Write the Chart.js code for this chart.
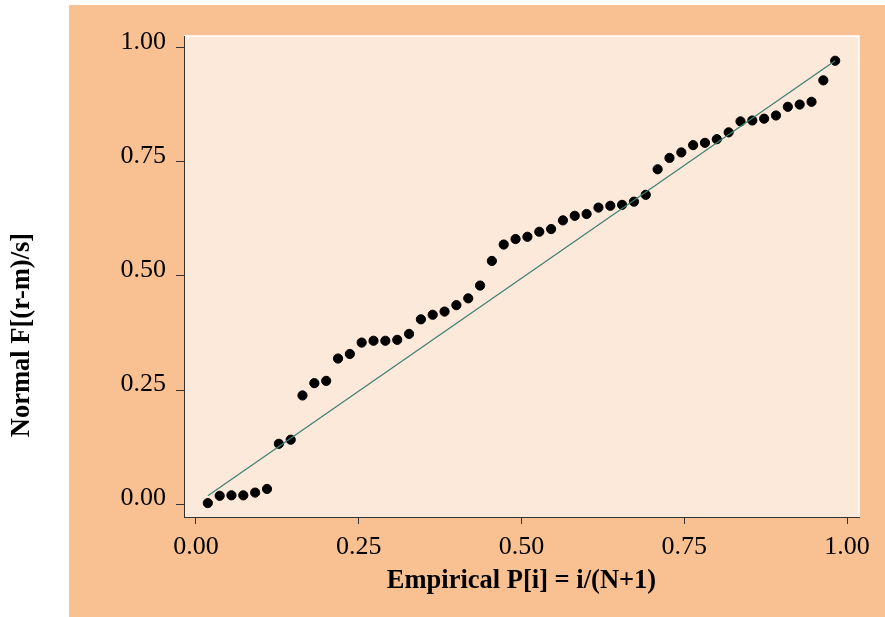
<!DOCTYPE html>
<html>
<head>
<meta charset="utf-8">
<script src="https://cdn.jsdelivr.net/npm/chart.js@4"></script>
<style>
  html, body { margin: 0; padding: 0; background: #ffffff; }
  #wrap { width: 885px; height: 617px; }
</style>
</head>
<body>
<div id="wrap"><canvas id="grafico" width="885" height="617"></canvas></div>
<script>
// empirical P[i] = i/(N+1), N = 54
const empiricalP = [
  0.0182, 0.0364, 0.0545, 0.0727, 0.0909, 0.1091, 0.1273, 0.1455, 0.1636, 0.1818,
  0.2000, 0.2182, 0.2364, 0.2545, 0.2727, 0.2909, 0.3091, 0.3273, 0.3455, 0.3636,
  0.3818, 0.4000, 0.4182, 0.4364, 0.4545, 0.4727, 0.4909, 0.5091, 0.5273, 0.5455,
  0.5636, 0.5818, 0.6000, 0.6182, 0.6364, 0.6545, 0.6727, 0.6909, 0.7091, 0.7273,
  0.7455, 0.7636, 0.7818, 0.8000, 0.8182, 0.8364, 0.8545, 0.8727, 0.8909, 0.9091,
  0.9273, 0.9455, 0.9636, 0.9818
];
// normal F[(r-m)/s]
const normalF = [
  0.002, 0.018, 0.019, 0.019, 0.025, 0.033, 0.132, 0.141, 0.238, 0.265,
  0.270, 0.319, 0.329, 0.354, 0.358, 0.358, 0.360, 0.373, 0.405, 0.415,
  0.422, 0.436, 0.451, 0.479, 0.533, 0.569, 0.581, 0.586, 0.597, 0.603,
  0.622, 0.632, 0.636, 0.650, 0.654, 0.656, 0.663, 0.678, 0.734, 0.759,
  0.771, 0.787, 0.792, 0.800, 0.815, 0.839, 0.841, 0.845, 0.852, 0.871,
  0.876, 0.882, 0.929, 0.972
];
// reference line ends
const refX = [0.0182, 0.9818];
const refY = [0.018, 0.972];
// tick labels
const xTicks = [0, 0.25, 0.5, 0.75, 1];
const yTicks = [0, 0.25, 0.5, 0.75, 1];
const xTitulo = "Empirical P[i] = i/(N+1)";
const yTitulo = "Normal F[(r-m)/s]";

const serif = '"Liberation Serif", "Times New Roman", serif';
const canvas = document.getElementById("grafico");

const fondo = {
  id: "fondo",
  beforeDraw(chart) {
    const ctx = chart.ctx;
    const a = chart.chartArea;
    ctx.save();
    ctx.fillStyle = "#ffffff";
    ctx.fillRect(0, 0, chart.width, chart.height);
    ctx.fillStyle = "#f9c191";
    ctx.fillRect(69, 5, chart.width - 69, chart.height - 5);
    ctx.fillStyle = "#fde9da";
    ctx.fillRect(a.left, a.top, a.right - a.left, a.bottom - a.top);
    ctx.strokeStyle = "#ffffff";
    ctx.lineWidth = 1.5;
    ctx.beginPath();
    ctx.moveTo(a.left, a.top);
    ctx.lineTo(a.right, a.top);
    ctx.lineTo(a.right, a.bottom);
    ctx.stroke();
    ctx.restore();
  }
};

// y axis title sits lower than the plot centre in the original
const tituloY = {
  id: "tituloY",
  afterDraw(chart) {
    const ctx = chart.ctx;
    ctx.save();
    ctx.translate(22, 335);
    ctx.rotate(-Math.PI / 2);
    ctx.fillStyle = "#000000";
    ctx.font = "bold 26.5px " + serif;
    ctx.textAlign = "center";
    ctx.textBaseline = "middle";
    ctx.fillText(yTitulo, 0, 0);
    ctx.restore();
  }
};

new Chart(canvas, {
  type: "scatter",
  data: {
    datasets: [
      {
        type: "line",
        data: refX.map((x, i) => ({ x: x, y: refY[i] })),
        borderColor: "#3d7f72",
        borderWidth: 1.2,
        pointRadius: 0,
        fill: false
      },
      {
        data: empiricalP.map((x, i) => ({ x: x, y: normalF[i] })),
        backgroundColor: "#000000",
        borderColor: "#000000",
        pointRadius: 4.6,
        pointHoverRadius: 4.6
      }
    ]
  },
  options: {
    responsive: false,
    animation: false,
    events: [],
    layout: { padding: { left: 0, top: 36, right: 26, bottom: 0 } },
    plugins: { legend: { display: false }, tooltip: { enabled: false } },
    scales: {
      x: {
        type: "linear",
        min: -0.0184,
        max: 1.0184,
        afterBuildTicks: s => { s.ticks = xTicks.map(v => ({ value: v })); },
        afterFit: s => { s.height = 100; },
        grid: { drawOnChartArea: false, drawTicks: true, tickLength: 7, color: "#333333" },
        border: { display: true, color: "#333333", width: 1 },
        ticks: {
          color: "#000000",
          padding: 8,
          font: { family: serif, size: 26 },
          callback: v => Number(v).toFixed(2)
        },
        title: {
          display: true,
          text: xTitulo,
          color: "#000000",
          font: { family: serif, size: 26.5, weight: "bold" },
          padding: { top: 0, bottom: 20 }
        }
      },
      y: {
        type: "linear",
        min: -0.0285,
        max: 1.0263,
        afterBuildTicks: s => { s.ticks = yTicks.map(v => ({ value: v })); },
        afterFit: s => { s.width = 184; },
        grid: { drawOnChartArea: false, drawTicks: true, tickLength: 8, color: "#333333" },
        border: { display: true, color: "#333333", width: 1 },
        ticks: {
          color: "#000000",
          padding: 10,
          labelOffset: -6,
          font: { family: serif, size: 26 },
          callback: v => Number(v).toFixed(2)
        },
        title: { display: false }
      }
    }
  },
  plugins: [fondo, tituloY]
});
</script>
</body>
</html>
